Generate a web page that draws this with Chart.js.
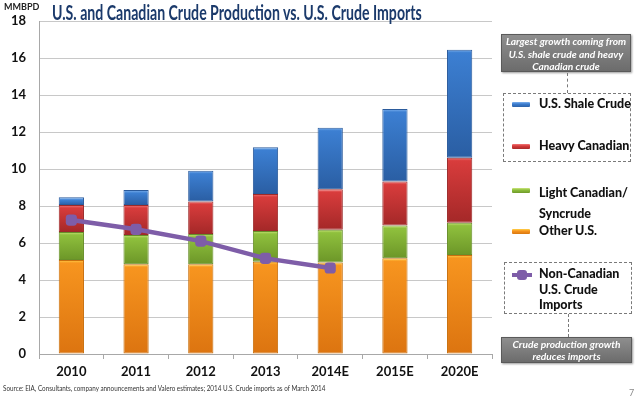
<!DOCTYPE html>
<html><head><meta charset="utf-8">
<script src="https://cdn.jsdelivr.net/npm/chart.js@4/dist/chart.umd.min.js"></script>
<style>
html,body{margin:0;padding:0;background:#fff;}
#wrap{position:relative;width:640px;height:399px;overflow:hidden;font-family:Lato,"Open Sans",sans-serif;}
#c{position:absolute;left:0;top:0;}
.abs{position:absolute;white-space:nowrap;}
.fit{transform-origin:0 50%;}
#title{left:52px;top:0px;height:24px;line-height:24px;font-size:21px;font-weight:bold;color:#1B3A6B;}
#unit{left:4px;top:2px;font-size:9px;font-weight:bold;color:#222;line-height:10px;}
#src{left:3px;top:383px;height:10px;line-height:10px;font-size:8px;color:#333;}
#pg{left:629px;top:387px;font-size:9px;color:#888;}
.callout{position:absolute;background:linear-gradient(#8e8e8e,#6c6c6c);border:1px solid #5a5a5a;box-shadow:1px 1px 2px rgba(0,0,0,.4);color:#fff;font-style:italic;font-weight:bold;font-size:10.2px;text-align:center;}
.dash{position:absolute;border:1.5px dashed #7a7a7a;}
.vline{position:absolute;width:0;border-left:1.5px dashed #7a7a7a;}
.lg{position:absolute;font-size:12.5px;font-weight:900;color:#111;line-height:16px;white-space:nowrap;}
.sw{position:absolute;width:18px;height:5px;border-radius:1px;}
</style></head>
<body>
<div id="wrap">
<canvas id="c" width="640" height="399"></canvas>
<div id="title" class="abs fit">U.S. and Canadian Crude Production vs. U.S. Crude Imports</div>
<div id="unit" class="abs">MMBPD</div>
<div id="src" class="abs fit">Source: EIA, Consultants, company announcements and Valero estimates; 2014 U.S. Crude imports as of March 2014</div>
<div id="pg" class="abs">7</div>

<div class="callout" style="left:501px;top:34px;width:130px;height:38px;line-height:12.5px;padding-top:0px;box-sizing:border-box;">Largest growth coming from<br>U.S. shale crude and heavy<br>Canadian crude</div>
<div class="vline" style="left:567px;top:73px;height:20px;"></div>
<div class="dash" style="left:503px;top:93px;width:126px;height:67px;"></div>

<div class="sw" style="left:512px;top:102px;background:linear-gradient(#7fb2ee,#3b7dd0 40%,#2d62a8);"></div>
<div class="lg" style="left:539px;top:96px;">U.S. Shale Crude</div>
<div class="sw" style="left:512px;top:144px;background:linear-gradient(#f27878,#d63b3b 40%,#a82a2a);"></div>
<div class="lg" style="left:539px;top:138px;">Heavy Canadian</div>
<div class="sw" style="left:512px;top:188px;background:linear-gradient(#cde77e,#8dbe3c 40%,#6f9a2a);"></div>
<div class="lg" style="left:539px;top:182px;line-height:21px;">Light Canadian/<br>Syncrude</div>
<div class="sw" style="left:512px;top:229px;background:linear-gradient(#ffd24a,#f7941e 40%,#d9770f);"></div>
<div class="lg" style="left:539px;top:223px;">Other U.S.</div>

<div class="dash" style="left:504px;top:262px;width:126px;height:50px;"></div>
<div class="abs" style="left:512px;top:273px;width:20px;height:4px;background:#7E5DA8;"></div>
<div class="abs" style="left:517px;top:270px;width:10px;height:10px;border-radius:3px;background:#7E5DA8;"></div>
<div class="lg" style="left:539px;top:266px;line-height:15.5px;">Non-Canadian<br>U.S. Crude<br>Imports</div>
<div class="vline" style="left:568px;top:314px;height:23px;"></div>
<div class="callout" style="left:501px;top:337px;width:131px;height:26px;line-height:12px;padding-top:0px;box-sizing:border-box;">Crude production growth<br>reduces imports</div>
</div>
<script>
const categories = ['2010','2011','2012','2013','2014E','2015E','2020E'];
const otherUS = [5.08, 4.85, 4.85, 4.99, 4.94, 5.17, 5.35];
const lightCanadian = [1.52, 1.58, 1.64, 1.66, 1.78, 1.78, 1.75];
const heavyCanadian = [1.45, 1.62, 1.76, 2.00, 2.18, 2.37, 3.51];
const shaleCrude = [0.42, 0.81, 1.66, 2.52, 3.33, 3.92, 5.84];
const nonCanadianImports = [7.24, 6.74, 6.10, 5.17, 4.65, null, null];
const seriesNames = ['Other U.S.', 'Light Canadian/ Syncrude', 'Heavy Canadian', 'U.S. Shale Crude', 'Non-Canadian U.S. Crude Imports'];
const yTickValues = [0, 2, 4, 6, 8, 10, 12, 14, 16, 18];

const stackSeries = [otherUS, lightCanadian, heavyCanadian, shaleCrude];
const palettes = [
  ['#ffd24a', '#f7951f', '#dc7410'],
  ['#cde77e', '#8fc03d', '#6c9628'],
  ['#f27878', '#d83c3c', '#a42828'],
  ['#80b4ef', '#3c7fd2', '#2a5ea3']
];
const borders = ['#c9700e', '#688f2a', '#9c2a2a', '#2b5b9c'];

function barFill(si) {
  return function (ctx) {
    const chart = ctx.chart;
    const pal = palettes[si];
    if (!chart.chartArea || !chart.scales.y || ctx.dataIndex === undefined) return pal[1];
    const ys = chart.scales.y;
    const i = ctx.dataIndex;
    let below = 0;
    for (let k = 0; k < si; k++) below += stackSeries[k][i];
    const yb = ys.getPixelForValue(below);
    const yt = ys.getPixelForValue(below + stackSeries[si][i]);
    const g = chart.ctx.createLinearGradient(0, yt, 0, yb);
    const h = Math.max(yb - yt, 1);
    g.addColorStop(0, pal[0]);
    g.addColorStop(Math.min(0.5, 3 / h), pal[1]);
    g.addColorStop(1, pal[2]);
    return g;
  };
}

const datasets = stackSeries.map((arr, si) => ({
  type: 'bar',
  label: seriesNames[si],
  data: arr,
  backgroundColor: barFill(si),
  borderColor: borders[si],
  borderWidth: 1,
  borderSkipped: false,
  stack: 's',
  order: 1,
  categoryPercentage: 1,
  barPercentage: 0.39
}));
datasets.push({
  type: 'line',
  label: seriesNames[4],
  data: nonCanadianImports,
  borderColor: '#7E5DA8',
  backgroundColor: '#7E5DA8',
  borderWidth: 4.5,
  pointStyle: 'rectRounded',
  pointRadius: 6.5,
  pointBorderWidth: 0,
  tension: 0,
  order: 0
});

new Chart(document.getElementById('c'), {
  data: { labels: categories, datasets },
  options: {
    responsive: false,
    animation: false,
    layout: { padding: { left: 0, top: 21, right: 148, bottom: 0 } },
    plugins: { legend: { display: false }, tooltip: { enabled: false } },
    scales: {
      x: {
        stacked: true,
        offset: true,
        grid: { offset: true, drawOnChartArea: false, drawTicks: true, tickLength: 5, color: '#a8a8a8' },
        border: { display: true, color: '#a8a8a8' },
        ticks: { color: '#111', font: { family: 'Lato', size: 13, weight: 'bold' }, padding: 5, maxRotation: 0 },
        afterFit: s => { s.height = 45; }
      },
      y: {
        stacked: true,
        min: 0, max: 18,
        afterBuildTicks: s => { s.ticks = yTickValues.map(v => ({ value: v })); },
        grid: { color: '#c8c8c8', drawTicks: false },
        border: { display: true, color: '#a8a8a8' },
        ticks: { color: '#111', font: { family: 'Lato', size: 13, weight: 'bold' }, padding: 13 },
        afterFit: s => { s.width = 39; }
      }
    }
  }
});

function fitWidth(id, target) {
  const el = document.getElementById(id);
  const w = el.scrollWidth;
  if (w > 0) el.style.transform = 'scaleX(' + (target / w) + ')';
}
fitWidth('title', 370);
fitWidth('src', 322);
</script>
</body></html>
